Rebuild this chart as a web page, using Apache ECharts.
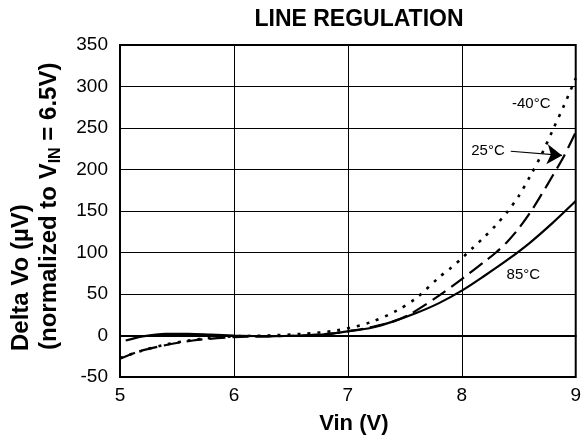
<!DOCTYPE html>
<html>
<head>
<meta charset="utf-8">
<script src="https://cdn.jsdelivr.net/npm/echarts@6/dist/echarts.min.js"></script>
<style>
html,body{margin:0;padding:0;background:#fff;}
#chart{width:584px;height:440px;}
</style>
</head>
<body>
<div id="chart"></div>
<script>
// ---- data ----
const xTicks = [5, 6, 7, 8, 9];
const yTicks = [-50, 0, 50, 100, 150, 200, 250, 300, 350];

const vin85 = [5.05, 5.2, 5.4, 5.6, 5.8, 6.0, 6.3, 6.6, 6.85, 7.0, 7.2, 7.4, 7.6, 7.8, 8.0, 8.2, 8.4, 8.6, 8.8, 9.0];
const dv85  = [-6, -1, 2, 2, 1, 0, -1, 0, 2, 5, 9, 17, 27, 39, 54, 72, 91, 112, 136, 162];

const vin25 = [5.0, 5.17, 5.35, 5.64, 6.0, 6.3, 6.6, 6.9, 7.0, 7.2, 7.4, 7.55, 7.8, 8.0, 8.2, 8.3, 8.4, 8.5, 8.6, 8.7, 8.8, 8.9, 9.0];
const dv25  = [-28, -19, -13, -6, -2, -1, 0, 3, 5, 10, 17, 26, 48, 68, 89, 100, 113, 129, 148, 170, 193, 217, 245];

const vinM40 = [5.0, 5.2, 5.4, 5.6, 5.8, 6.0, 6.3, 6.6, 6.9, 7.2, 7.43, 7.6, 7.8, 7.9, 8.0, 8.1, 8.2, 8.3, 8.4, 8.5, 8.6, 8.7, 8.8, 8.9, 9.0];
const dvM40  = [-27, -18, -11, -6, -3, -1, 0, 2, 6, 16, 30, 45, 70, 81, 93, 106, 119, 133, 149, 168, 192, 218, 248, 278, 310];

const labelText = ['-40°C', '25°C', '85°C'];
const labelPos  = [[8.61, 279], [8.23, 222], [8.54, 73]];
const arrowFrom = [8.43, 222];
const arrowTo   = [8.88, 217];

const FONT = '"Liberation Sans", Arial, Helvetica, sans-serif';
const pairs = (xs, ys) => xs.map((x, i) => [x, ys[i]]);

const chart = echarts.init(document.getElementById('chart'), null, {renderer: 'canvas'});
const option = {
  animation: false,
  backgroundColor: '#fff',
  title: {
    text: 'LINE REGULATION',
    left: 354, top: 3, textAlign: 'center',
    textStyle: {fontFamily: FONT, fontSize: 23, fontWeight: 'bold', color: '#000'}
  },
  grid: {left: 120, right: 6, top: 45, bottom: 58, show: true, borderColor: '#000', borderWidth: 2},
  xAxis: {
    type: 'value', min: xTicks[0], max: xTicks[xTicks.length - 1], interval: 1,
    name: 'Vin (V)', nameLocation: 'middle', nameGap: 36,
    nameTextStyle: {fontFamily: FONT, fontSize: 22, fontWeight: 'bold', color: '#000', padding: [0, 0, 0, 12]},
    axisLine: {lineStyle: {color: '#000', width: 2}},
    axisTick: {show: false},
    axisLabel: {fontFamily: FONT, fontSize: 19, color: '#000', margin: 9},
    splitLine: {show: true, lineStyle: {color: '#000', width: 1}}
  },
  yAxis: {
    type: 'value', min: yTicks[0], max: yTicks[yTicks.length - 1], interval: 50,
    axisLine: {show: true, lineStyle: {color: '#000', width: 2}},
    axisTick: {show: false},
    axisLabel: {fontFamily: FONT, fontSize: 19, color: '#000', margin: 12},
    splitLine: {show: true, lineStyle: {color: '#000', width: 1}}
  },
  series: [
    {
      name: '85°C', type: 'line', data: pairs(vin85, dv85), smooth: 0.3, symbol: 'none',
      lineStyle: {color: '#000', width: 2.2, type: 'solid'}
    },
    {
      name: '25°C', type: 'line', data: pairs(vin25, dv25), smooth: 0.3, symbol: 'none',
      lineStyle: {color: '#000', width: 2.2, type: [16, 7]},
      markLine: {
        silent: true, symbol: ['none', 'arrow'], symbolSize: 15, symbolOffset: 0,
        itemStyle: {color: '#000'},
        lineStyle: {color: '#000', width: 1.2, type: 'solid'},
        label: {show: false},
        data: [[{coord: arrowFrom}, {coord: arrowTo}]]
      }
    },
    {
      name: '-40°C', type: 'line', data: pairs(vinM40, dvM40), smooth: 0.3, symbol: 'none',
      lineStyle: {color: '#000', width: 2.6, type: [3, 7]}
    }
  ]
};
chart.setOption(option);

const texts = labelText.map((t, i) => {
  const p = chart.convertToPixel({gridIndex: 0}, labelPos[i]);
  return {type: 'text', x: p[0], y: p[1], style: {text: t, font: '15px ' + FONT, fill: '#000', textAlign: 'center', textVerticalAlign: 'middle'}};
});

chart.setOption({
  graphic: texts.concat([
    {
      type: 'text', x: 21, y: 351, rotation: Math.PI / 2,
      style: {text: 'Delta Vo (µV)', font: 'bold 24px ' + FONT, fill: '#000', textAlign: 'left', textVerticalAlign: 'middle'}
    },
    {
      type: 'text', x: 49, y: 350, rotation: Math.PI / 2,
      style: {
        text: '{m|(normalized to V}{s|IN}{m| = 6.5V)}',
        textAlign: 'left', textVerticalAlign: 'middle',
        rich: {
          m: {fontFamily: FONT, fontSize: 24, fontWeight: 'bold', fill: '#000', color: '#000', lineHeight: 26},
          s: {fontFamily: FONT, fontSize: 16, fontWeight: 'bold', fill: '#000', color: '#000', padding: [13, 0, 0, 0]}
        }
      }
    }
  ])
});
</script>
</body>
</html>
